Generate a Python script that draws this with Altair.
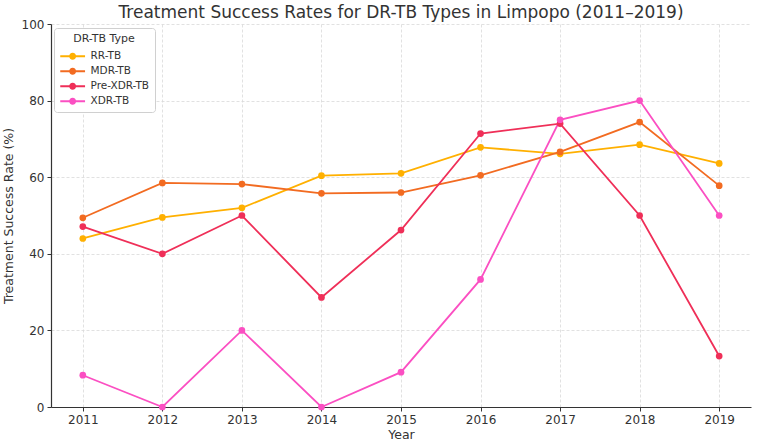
import altair as alt
import pandas as pd

years = [2011, 2012, 2013, 2014, 2015, 2016, 2017, 2018, 2019]
types = ["RR-TB", "MDR-TB", "Pre-XDR-TB", "XDR-TB"]
rr_tb = [44.0, 49.5, 52.0, 60.4, 61.0, 67.8, 66.1, 68.5, 63.6]
mdr_tb = [49.4, 58.5, 58.2, 55.8, 56.0, 60.5, 66.6, 74.4, 57.8]
pre_xdr_tb = [47.1, 40.0, 50.0, 28.6, 46.2, 71.4, 74.0, 50.0, 13.3]
xdr_tb = [8.3, 0.0, 20.0, 0.0, 9.1, 33.3, 75.0, 80.0, 50.0]
colors = ["#FFB000", "#F26B21", "#EF2F58", "#FB4FC2"]
y_ticks = [0, 20, 40, 60, 80, 100]

series = {"RR-TB": rr_tb, "MDR-TB": mdr_tb, "Pre-XDR-TB": pre_xdr_tb, "XDR-TB": xdr_tb}
rows = []
for t in types:
    for yr, v in zip(years, series[t]):
        rows.append({"Year": yr, "Rate": v, "Type": t})
df = pd.DataFrame(rows)

FONT = "DejaVu Sans"
TXT = "#333333"

x_enc = alt.X(
    "Year:Q",
    scale=alt.Scale(domain=[2010.6, 2019.4], nice=False, zero=False),
    axis=alt.Axis(values=years, format="d", title="Year", titlePadding=3),
)
y_enc = alt.Y(
    "Rate:Q",
    scale=alt.Scale(domain=[0, 100], nice=False),
    axis=alt.Axis(values=y_ticks, title="Treatment Success Rate (%)", titlePadding=6),
)

# legend symbol: a short line with a dot, drawn in symbol units (1 unit = 4 px)
sym_path = (
    "M-1,-0.225L5.2,-0.225L5.2,0.225L-1,0.225Z"
    "M2.975,0A0.875,0.875,0,1,1,1.225,0A0.875,0.875,0,1,1,2.975,0Z"
)

legend = alt.Legend(
    title="DR-TB Type",
    orient="none",
    legendX=3,
    legendY=4,
    symbolType=sym_path,
    symbolSize=64,
    symbolStrokeWidth=0,
    symbolOpacity=1,
    labelOffset=21,
    rowPadding=4,
    padding=5,
    titlePadding=7,
    titleAnchor="middle",
    fillColor="#ffffff",
    strokeColor="#d0d0d0",
    cornerRadius=3,
)

color_scale = alt.Scale(domain=types, range=colors)

base = alt.Chart(df)
lines = base.mark_line(strokeWidth=1.8).encode(
    x=x_enc,
    y=y_enc,
    stroke=alt.Stroke("Type:N", scale=color_scale, legend=legend, sort=types),
    order=alt.Order("Year:Q"),
)
points = base.mark_circle(size=45, opacity=1).encode(
    x=x_enc,
    y=y_enc,
    fill=alt.Fill("Type:N", scale=color_scale, legend=legend, sort=types),
)

chart = (
    alt.layer(lines, points)
    .properties(
        width=700,
        height=383,
        title=alt.TitleParams(
            "Treatment Success Rates for DR-TB Types in Limpopo (2011\u20132019)",
            font=FONT,
            fontSize=17,
            fontWeight="normal",
            color=TXT,
            anchor="middle",
            frame="group",
            offset=5,
            dy=9,
        ),
        autosize=alt.AutoSizeParams(type="none"),
        padding={"left": 51, "top": 24, "right": 7, "bottom": 38},
    )
    .configure_view(stroke=None)
    .configure_axis(
        labelFont=FONT,
        titleFont=FONT,
        labelFontSize=12,
        titleFontSize=12.5,
        titleFontWeight="normal",
        labelColor=TXT,
        titleColor=TXT,
        domainColor="#333333",
        domainWidth=1.2,
        tickColor="#333333",
        tickSize=4,
        tickWidth=1,
        labelPadding=3,
        gridColor="#d9d9d9",
        gridDash=[3, 2],
        gridWidth=0.8,
    )
    .configure_legend(
        labelFont=FONT,
        titleFont=FONT,
        labelFontSize=10.5,
        titleFontSize=11,
        titleFontWeight="normal",
        labelColor=TXT,
        titleColor=TXT,
    )
)

chart.save("out.html", embed_options={"renderer": "svg", "actions": False})
